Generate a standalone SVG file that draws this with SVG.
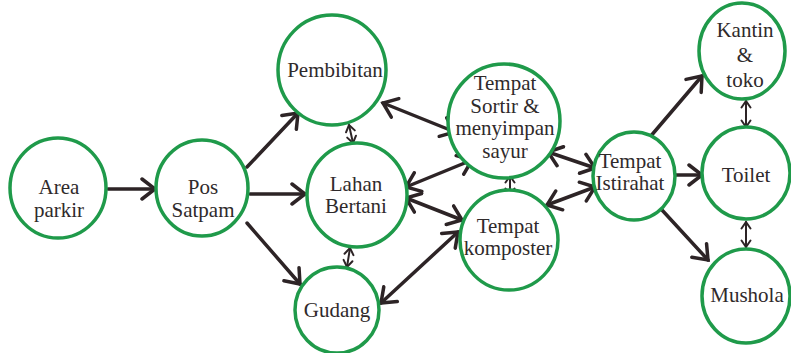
<svg xmlns="http://www.w3.org/2000/svg" width="791" height="353" viewBox="0 0 791 353">
  <style>
    .node { fill: #ffffff; stroke: #1f9a4a; stroke-width: 3.5; }
    .label { font-family: "Liberation Serif", "Times New Roman", serif; font-size: 21px; fill: #2f2a2b; text-anchor: middle; }
    .link { stroke: #2d2426; stroke-width: 3.5; fill: none; stroke-linecap: round; }
    .link.short { stroke-width: 2; }
  </style>
  <defs>
    <marker id="head" markerUnits="userSpaceOnUse" viewBox="0 0 18 24" refX="15" refY="12" markerWidth="18" markerHeight="24" orient="auto-start-reverse">
      <path d="M2,2 L15,12 L2,22" fill="none" stroke="#2d2426" stroke-width="3.5" stroke-linecap="round" stroke-linejoin="miter"/>
    </marker>
    <marker id="tip" markerUnits="userSpaceOnUse" viewBox="0 0 10 12" refX="8" refY="6" markerWidth="10" markerHeight="12" orient="auto-start-reverse">
      <path d="M1.5,1.5 L8,6 L1.5,10.5" fill="none" stroke="#2d2426" stroke-width="2" stroke-linecap="round"/>
    </marker>
  </defs>

  <!-- connectors -->
  <g id="connectors">
    <line class="link" x1="108" y1="189" x2="155" y2="189" marker-end="url(#head)"/>
    <line class="link" x1="247" y1="167" x2="298" y2="113" marker-end="url(#head)"/>
    <line class="link" x1="250" y1="194" x2="305" y2="194" marker-end="url(#head)"/>
    <line class="link" x1="247" y1="223" x2="300" y2="284" marker-end="url(#head)"/>
    <line class="link short" x1="349" y1="125" x2="353" y2="143" marker-start="url(#tip)" marker-end="url(#tip)"/>
    <line class="link short" x1="350" y1="248" x2="347" y2="267" marker-start="url(#tip)" marker-end="url(#tip)"/>
    <line class="link" x1="383" y1="103" x2="455" y2="132" marker-start="url(#head)" marker-end="url(#head)"/>
    <line class="link" x1="406" y1="187" x2="472" y2="160" marker-start="url(#head)" marker-end="url(#head)"/>
    <line class="link" x1="406" y1="198" x2="462" y2="220" marker-start="url(#head)" marker-end="url(#head)"/>
    <line class="link" x1="381" y1="303" x2="458" y2="232" marker-start="url(#head)" marker-end="url(#head)"/>
    <line class="link short" x1="510" y1="176" x2="510" y2="195" marker-start="url(#tip)" marker-end="url(#tip)"/>
    <line class="link" x1="548" y1="152" x2="595" y2="168" marker-start="url(#head)" marker-end="url(#head)"/>
    <line class="link" x1="547" y1="205" x2="595" y2="187" marker-start="url(#head)" marker-end="url(#head)"/>
    <line class="link" x1="650" y1="137" x2="702" y2="76" marker-end="url(#head)"/>
    <line class="link" x1="675" y1="175" x2="702" y2="175" marker-end="url(#head)"/>
    <line class="link" x1="662" y1="210" x2="708" y2="260" marker-end="url(#head)"/>
    <line class="link short" x1="746" y1="101" x2="746" y2="127" marker-start="url(#tip)" marker-end="url(#tip)"/>
    <line class="link short" x1="746" y1="222" x2="746" y2="247" marker-start="url(#tip)" marker-end="url(#tip)"/>
  </g>

  <!-- nodes -->
  <g id="area-parkir">
    <ellipse class="node" cx="58" cy="188" rx="48" ry="50"/>
    <text class="label" x="59" y="194">Area</text>
    <text class="label" x="59" y="217">parkir</text>
  </g>
  <g id="pos-satpam">
    <ellipse class="node" cx="202" cy="188" rx="46" ry="48"/>
    <text class="label" x="203" y="194">Pos</text>
    <text class="label" x="203" y="217">Satpam</text>
  </g>
  <g id="pembibitan">
    <ellipse class="node" cx="332" cy="70" rx="54" ry="55"/>
    <text class="label" x="335" y="77">Pembibitan</text>
  </g>
  <g id="lahan-bertani">
    <ellipse class="node" cx="357" cy="195" rx="50" ry="52"/>
    <text class="label" x="356" y="191">Lahan</text>
    <text class="label" x="356" y="213">Bertani</text>
  </g>
  <g id="gudang">
    <ellipse class="node" cx="337" cy="310" rx="42" ry="43"/>
    <text class="label" x="337" y="317">Gudang</text>
  </g>
  <g id="tempat-sortir">
    <ellipse class="node" cx="504" cy="121" rx="56" ry="57"/>
    <text class="label" x="505" y="90">Tempat</text>
    <text class="label" x="505" y="113">Sortir &amp;</text>
    <text class="label" x="505" y="135">menyimpan</text>
    <text class="label" x="505" y="158">sayur</text>
  </g>
  <g id="tempat-komposter">
    <ellipse class="node" cx="509" cy="240" rx="49" ry="50"/>
    <text class="label" x="508" y="233">Tempat</text>
    <text class="label" x="508" y="255">komposter</text>
  </g>
  <g id="tempat-istirahat">
    <ellipse class="node" cx="634" cy="176" rx="41" ry="44"/>
    <text class="label" x="630" y="168">Tempat</text>
    <text class="label" x="630" y="190">Istirahat</text>
  </g>
  <g id="kantin-toko">
    <ellipse class="node" cx="742" cy="51" rx="43" ry="48"/>
    <text class="label" x="745" y="37">Kantin</text>
    <text class="label" x="745" y="62">&amp;</text>
    <text class="label" x="745" y="87">toko</text>
  </g>
  <g id="toilet">
    <ellipse class="node" cx="746" cy="173" rx="44" ry="46"/>
    <text class="label" x="746" y="182">Toilet</text>
  </g>
  <g id="mushola">
    <ellipse class="node" cx="746" cy="296" rx="44" ry="47"/>
    <text class="label" x="747" y="302">Mushola</text>
  </g>
</svg>
